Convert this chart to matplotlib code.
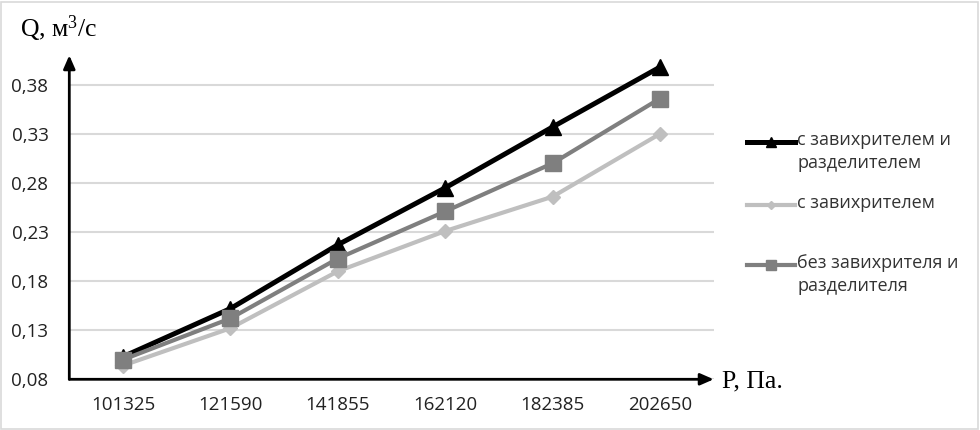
import matplotlib.pyplot as plt
from matplotlib.lines import Line2D
from matplotlib.patches import Rectangle

# pressure categories and flow series
pressures = ["101325", "121590", "141855", "162120", "182385", "202650"]
q_swirl_separator = [0.103, 0.152, 0.217, 0.275, 0.337, 0.398]
q_swirl = [0.094, 0.132, 0.190, 0.231, 0.266, 0.330]
q_plain = [0.100, 0.142, 0.203, 0.251, 0.300, 0.366]

y_ticks = [0.08, 0.13, 0.18, 0.23, 0.28, 0.33, 0.38]
y_tick_labels = ["0,08", "0,13", "0,18", "0,23", "0,28", "0,33", "0,38"]

labels = ["с завихрителем и\nразделителем", "с завихрителем",
          "без завихрителя и\nразделителя"]

plt.rcParams["font.family"] = ["Open Sans", "DejaVu Sans"]
plt.rcParams["mathtext.fontset"] = "custom"
plt.rcParams["mathtext.rm"] = "Liberation Serif"
plt.rcParams["mathtext.it"] = "Liberation Serif"

W, H = 980, 430
fig = plt.figure(figsize=(W / 100, H / 100), dpi=100)
ax = fig.add_axes([69.3 / W, (H - 379.3) / H, (713.7 - 69.3) / W, 324 / H])

x = list(range(len(pressures)))
styles = [
    dict(color="black", lw=3.6, marker="^", ms=12, zorder=3),
    dict(color="#bfbfbf", lw=3.0, marker="D", ms=7, zorder=4),
    dict(color="#7f7f7f", lw=3.0, marker="s", ms=12, zorder=5),
]
for series, style, label in zip([q_swirl_separator, q_swirl, q_plain],
                                styles, labels):
    ax.plot(x, series, label=label, **style)

ax.set_xlim(-0.5, len(pressures) - 0.5)
ax.set_ylim(0.08, 0.41)
ax.set_xticks(x)
ax.set_xticklabels(pressures, fontsize=13.5, color="#222222")
ax.set_yticks(y_ticks)
ax.set_yticklabels(y_tick_labels, fontsize=13.5, color="#222222")
ax.tick_params(length=0, pad=15)
ax.tick_params(axis="x", pad=12)
ax.grid(axis="y", color="#d9d9d9", lw=1.5)
ax.set_axisbelow(True)
for side in ["top", "right", "left", "bottom"]:
    ax.spines[side].set_visible(False)

# axes with arrows
arrow = dict(arrowstyle="-|>,head_length=0.8,head_width=0.35",
             color="black", lw=2, shrinkA=0, shrinkB=0)
ax.annotate("", xy=(0, 1.0), xytext=(0, 0), xycoords="axes fraction",
            arrowprops=arrow, annotation_clip=False)
ax.annotate("", xy=(1.0, 0), xytext=(0, 0), xycoords="axes fraction",
            arrowprops=arrow, annotation_clip=False)

fig.text(20 / W, 1 - 29 / H, "Q, м$^{3}$/с", family="Liberation Serif",
         fontsize=18.5, va="center", ha="left")
fig.text(722 / W, 1 - 381 / H, "P, Па.", family="Liberation Serif",
         fontsize=18.5, va="center", ha="left")

# legend in Excel style: handle aligned with the first line of the label
legend_rows = [142, 205, 265]
for row, style, label in zip(legend_rows, styles, labels):
    y = 1 - row / H
    handle = Line2D([747 / W, 795 / W], [y, y], transform=fig.transFigure,
                    color=style["color"], lw=style["lw"])
    mark = Line2D([771 / W], [y], transform=fig.transFigure,
                  color=style["color"], marker=style["marker"],
                  ms=style["ms"] * 0.6, lw=0)
    fig.add_artist(handle)
    fig.add_artist(mark)
    fig.text(797 / W, y + 11 / H, label, fontsize=13, color="#333333",
             va="top", ha="left", linespacing=1.35)

fig.add_artist(Rectangle((1 / W, 1 / H), 1 - 3 / W, 1 - 3 / H,
                         transform=fig.transFigure, fill=False,
                         edgecolor="#d9d9d9", lw=1.2))

fig.savefig("out.png", dpi=100)
